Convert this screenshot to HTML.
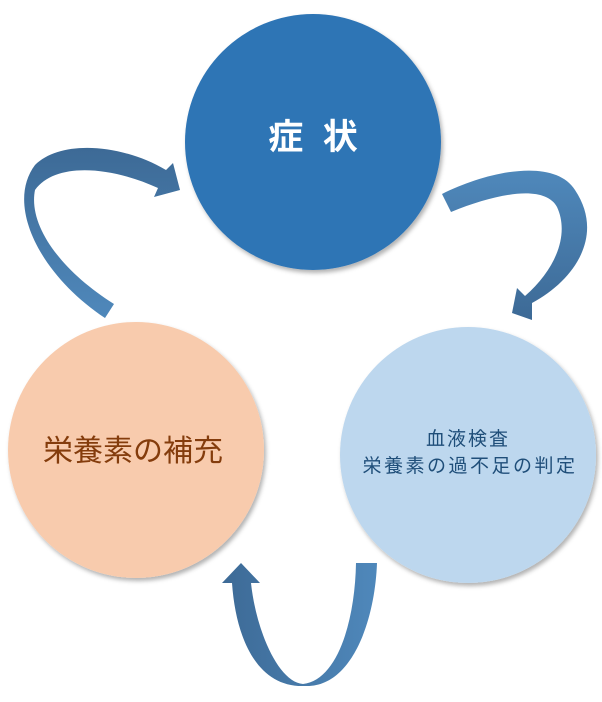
<!DOCTYPE html>
<html><head><meta charset="utf-8"><style>
html,body{margin:0;padding:0;background:#fff;}
body{width:602px;height:697px;overflow:hidden;}
</style></head><body>
<svg width="602" height="697" viewBox="0 0 602 697" xmlns="http://www.w3.org/2000/svg">
<defs>
<filter id="sh" x="-10%" y="-10%" width="130%" height="130%"><feDropShadow dx="2" dy="3" stdDeviation="2" flood-color="#000" flood-opacity="0.3"/></filter>
<linearGradient id="ga" x1="0" y1="1" x2="0" y2="0"><stop offset="0" stop-color="#4f88bb"/><stop offset="1" stop-color="#3d6a96"/></linearGradient>
<linearGradient id="gb" x1="0" y1="0" x2="0" y2="1"><stop offset="0" stop-color="#4f88bb"/><stop offset="1" stop-color="#3d6a96"/></linearGradient>
<linearGradient id="gc" x1="1" y1="0" x2="0" y2="0"><stop offset="0" stop-color="#4f88bb"/><stop offset="1" stop-color="#3d6a96"/></linearGradient>
</defs>
<circle cx="313" cy="142" r="128" fill="#2e74b5" filter="url(#sh)"/>
<circle cx="136" cy="450" r="128" fill="#f8cbad" filter="url(#sh)"/>
<circle cx="468" cy="455" r="128" fill="#bdd7ee" filter="url(#sh)"/>
<path d="M105,318 C40,275 5,205 35,165 C60,140 120,143 166,170 L173,163 L180,190 L154,197 L158,188 C110,166 55,162 35,190 C28,225 60,270 114,304 Z" fill="url(#ga)"/>
<path d="M442,194 C490,170 555,158 575,190 C605,235 575,280 532,303 L532,320 L512,313 L517,288 L525,296 C555,270 570,235 557,207 C545,185 500,192 451,212 Z" fill="url(#gb)"/>
<path d="M377,563 C375,620 352,688 305,686 C258,688 236,640 232,583 L222,583 L241,563 L260,583 L251,583 C256,630 278,682 303,684 C338,680 355,620 356,563 Z" fill="url(#gc)"/>
<text x="313" y="149" text-anchor="middle" font-family="'Liberation Sans','Noto Sans CJK JP',sans-serif" font-size="35" font-weight="bold" fill="#fff" xml:space="preserve">症  状</text>
<text x="133" y="461" text-anchor="middle" font-family="'Liberation Sans','Noto Sans CJK JP',sans-serif" font-size="30" fill="#843c0c">栄養素の補充</text>
<text x="468" y="445" text-anchor="middle" font-family="'Liberation Sans','Noto Sans CJK JP',sans-serif" font-size="19" letter-spacing="2" fill="#1f4e79">血液検査</text>
<text x="470" y="472" text-anchor="middle" font-family="'Liberation Sans','Noto Sans CJK JP',sans-serif" font-size="19" letter-spacing="2.5" fill="#1f4e79">栄養素の過不足の判定</text>
</svg>
</body></html>
